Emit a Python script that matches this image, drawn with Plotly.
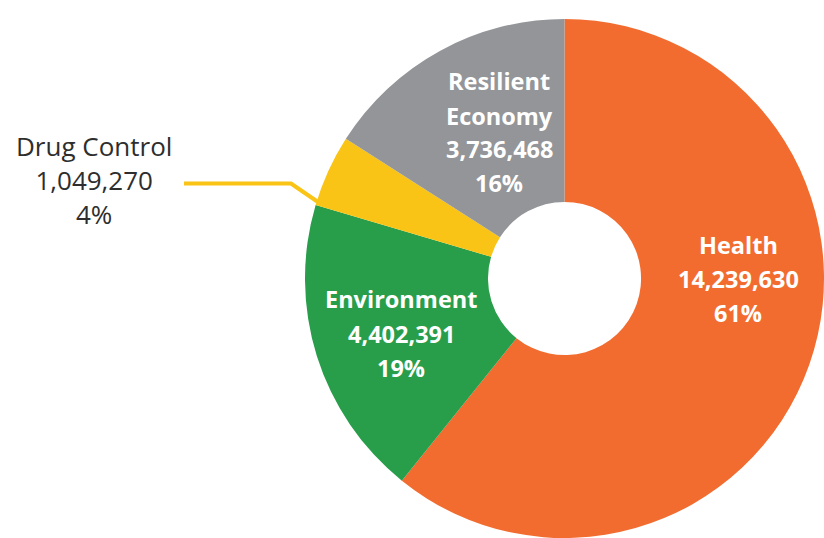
import plotly.graph_objects as go

# ---- data ----
categories = ["Health", "Environment", "Drug Control", "Resilient Economy"]
values = [14239630, 4402391, 1049270, 3736468]
colors = ["#F26C30", "#289D4A", "#F9C416", "#939598"]

W, H = 824, 538
total = sum(values)
pcts = [round(v / total * 100) for v in values]


def px(x, y):
    """pixel -> paper coordinates"""
    return x / W, 1 - y / H


fig = go.Figure(
    go.Pie(
        labels=categories,
        values=values,
        sort=False,
        direction="clockwise",
        rotation=0,
        hole=0.295,
        marker=dict(colors=colors, line=dict(width=0)),
        textinfo="none",
        hoverinfo="label+value+percent",
        showlegend=False,
        domain=dict(x=[305 / W, 1], y=[0, 1 - 19 / H]),
    )
)

# label layout (pixel centre x, list of line centre y's)
label_pos = {
    "Health": (738, [244.5, 278.5, 313]),
    "Environment": (401, [299, 333.5, 368]),
    "Resilient Economy": (499, [80.5, 115.5, 149, 183]),
}

annotations = []
for cat, val, pct in zip(categories, values, pcts):
    if cat == "Drug Control":
        # outside label: one block of three lines
        xp, yp = px(93.5, 179.5)
        annotations.append(
            dict(
                x=xp, y=yp, xref="paper", yref="paper",
                text=f"{cat}<br>{val:,}<br>{pct}%",
                showarrow=False, xanchor="center", yanchor="middle",
                align="center",
                font=dict(family="Open Sans", size=26, color="#2E2E2E"),
            )
        )
        continue
    cx, ys = label_pos[cat]
    name_lines = cat.split(" ") if cat == "Resilient Economy" else [cat]
    lines = name_lines + [f"{val:,}", f"{pct}%"]
    for line, yy in zip(lines, ys):
        xp, yp = px(cx, yy)
        annotations.append(
            dict(
                x=xp, y=yp, xref="paper", yref="paper",
                text=f"<b>{line}</b>",
                showarrow=False, xanchor="center", yanchor="middle",
                font=dict(family="Open Sans", size=23.5, color="#FFFFFF"),
            )
        )

# leader line for Drug Control
pts = [px(184, 183.5), px(291, 183.5), px(318, 202)]
path = "M " + " L ".join(f"{a:.5f},{b:.5f}" for a, b in pts)
fig.add_shape(type="path", path=path, xref="paper", yref="paper",
              line=dict(color=colors[2], width=4))

fig.update_layout(
    width=W, height=H,
    margin=dict(l=0, r=0, t=0, b=0),
    paper_bgcolor="white", plot_bgcolor="white",
    annotations=annotations,
)

fig.write_html("out.html")
